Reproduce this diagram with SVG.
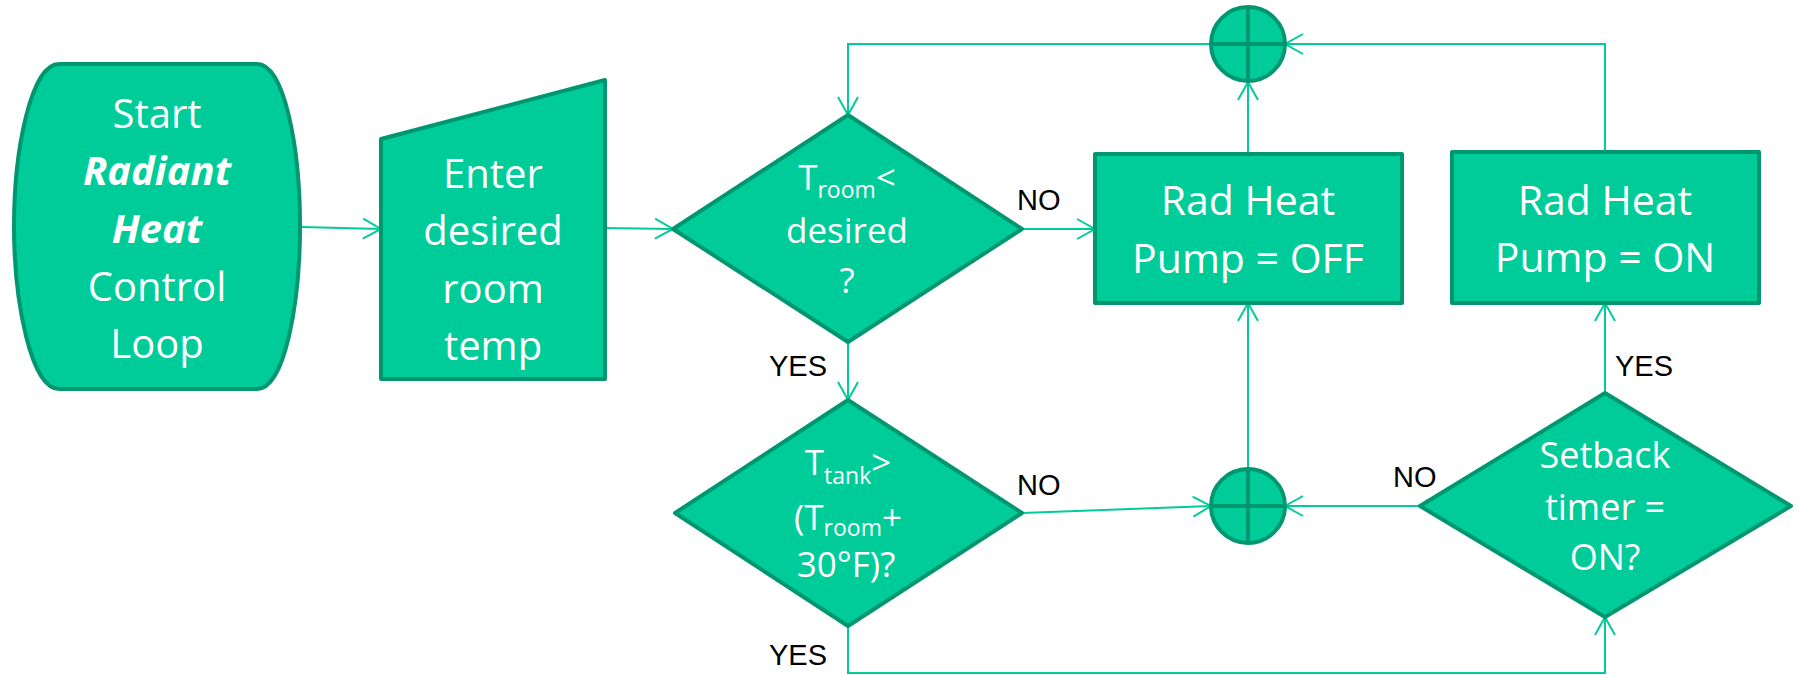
<svg xmlns="http://www.w3.org/2000/svg" width="1799" height="675" viewBox="0 0 1799 675">
<style>
.shape{fill:#00CC99;stroke:#009670;stroke-width:4;stroke-linejoin:round}
.t{font-family:"Open Sans","Noto Sans",sans-serif;fill:#ffffff;text-anchor:middle}
.big{font-size:40px}
.mid{font-size:35px}
.sub{font-size:23px}
.lbl{font-family:"Liberation Sans",Arial,sans-serif;font-size:29px;fill:#000000}
.conn{fill:none;stroke:#00CC99;stroke-width:2}
.cross{stroke:#009670;stroke-width:4}
</style>
<defs>
<marker id="arr" markerWidth="24" markerHeight="24" viewBox="-20 -12 24 24" refX="0" refY="0" orient="auto" markerUnits="userSpaceOnUse">
<path d="M-18,-10 L0,0 L-18,10" fill="none" stroke="#00CC99" stroke-width="2"/>
</marker>
</defs>
<rect width="1799" height="675" fill="#ffffff"/>
<g id="connectors">
<path class="conn" d="M302,227 L381,229" marker-end="url(#arr)"/>
<path class="conn" d="M605,228 L673,229" marker-end="url(#arr)"/>
<path class="conn" d="M1022,229 L1095,229" marker-end="url(#arr)"/>
<path class="conn" d="M1248,154 L1248,82" marker-end="url(#arr)"/>
<path class="conn" d="M1605,152 L1605,44 L1285,44" marker-end="url(#arr)"/>
<path class="conn" d="M1211,44 L848,44 L848,115" marker-end="url(#arr)"/>
<path class="conn" d="M848,342 L848,400" marker-end="url(#arr)"/>
<path class="conn" d="M1022,513 L1211,506" marker-end="url(#arr)"/>
<path class="conn" d="M1248,468 L1248,303" marker-end="url(#arr)"/>
<path class="conn" d="M1420,506 L1285,506" marker-end="url(#arr)"/>
<path class="conn" d="M1605,393 L1605,303" marker-end="url(#arr)"/>
<path class="conn" d="M848,626 L848,673 L1605,673 L1605,617" marker-end="url(#arr)"/>
<text class="lbl" x="1017" y="210">NO</text>
<text class="lbl" x="769" y="376">YES</text>
<text class="lbl" x="1017" y="495">NO</text>
<text class="lbl" x="769" y="665">YES</text>
<text class="lbl" x="1393" y="487">NO</text>
<text class="lbl" x="1615" y="376">YES</text>
</g>
<g id="start">
<path class="shape" d="M59,64 H257 C285,64 300,150 300,226 C300,302 285,389 257,389 H59 C31,389 14,302 14,226 C14,150 31,64 59,64 Z"/>
<text class="t big" x="157" y="128">Start</text>
<text class="t big" x="157" y="185" font-weight="bold" font-style="italic">Radiant</text>
<text class="t big" x="157" y="243" font-weight="bold" font-style="italic">Heat</text>
<text class="t big" x="157" y="301">Control</text>
<text class="t big" x="157" y="358">Loop</text>
</g>
<g id="input">
<path class="shape" d="M381,139 L605,80 L605,379 L381,379 Z"/>
<text class="t big" x="493" y="188">Enter</text>
<text class="t big" x="493" y="245">desired</text>
<text class="t big" x="493" y="303">room</text>
<text class="t big" x="493" y="360">temp</text>
</g>
<g id="decision1">
<path class="shape" d="M673,229 L848,115 L1022,229 L848,342 Z"/>
<text class="t mid" x="847" y="190"><tspan>T</tspan><tspan class="sub" dy="8">room</tspan><tspan dy="-8">&lt;</tspan></text>
<text class="t mid" x="847" y="243">desired</text>
<text class="t mid" x="847" y="293">?</text>
</g>
<g id="decision2">
<path class="shape" d="M675,513 L848,400 L1022,513 L848,626 Z"/>
<text class="t mid" x="848" y="475"><tspan>T</tspan><tspan class="sub" dy="9">tank</tspan><tspan dy="-9">&gt;</tspan></text>
<text class="t mid" x="848" y="530"><tspan>(T</tspan><tspan class="sub" dy="6">room</tspan><tspan dy="-6">+</tspan></text>
<text class="t mid" x="846" y="577">30°F)?</text>
</g>
<g id="pumpOff">
<rect class="shape" x="1095" y="154" width="307" height="149"/>
<text class="t" style="font-size:41px" x="1248" y="215">Rad Heat</text>
<text class="t" style="font-size:41px" x="1248" y="273">Pump = OFF</text>
</g>
<g id="pumpOn">
<rect class="shape" x="1452" y="152" width="307" height="151"/>
<text class="t" style="font-size:41px" x="1605" y="215">Rad Heat</text>
<text class="t" style="font-size:41px" x="1605" y="272">Pump = ON</text>
</g>
<g id="setback">
<path class="shape" d="M1605,393 L1791,506 L1605,617 L1420,506 Z"/>
<text class="t" style="font-size:36px" x="1605" y="468">Setback</text>
<text class="t" style="font-size:36px" x="1605" y="520">timer =</text>
<text class="t" style="font-size:36px" x="1605" y="570">ON?</text>
</g>
<g id="junctionTop">
<circle class="shape" cx="1248" cy="44" r="37"/>
<line class="cross" x1="1211" y1="44" x2="1285" y2="44"/>
<line class="cross" x1="1248" y1="7" x2="1248" y2="81"/>
</g>
<g id="junctionBottom">
<circle class="shape" cx="1248" cy="506" r="37"/>
<line class="cross" x1="1211" y1="506" x2="1285" y2="506"/>
<line class="cross" x1="1248" y1="469" x2="1248" y2="543"/>
</g>
</svg>
